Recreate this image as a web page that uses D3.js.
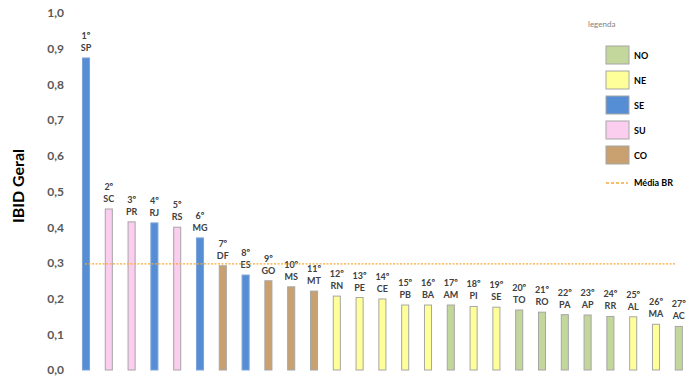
<!DOCTYPE html>
<html>
<head>
<meta charset="utf-8">
<script src="https://cdn.jsdelivr.net/npm/d3@7"></script>
<style>
  body { margin: 0; background: #fff; }
  text { font-family: Lato, "Open Sans", sans-serif; }
</style>
</head>
<body>
<div id="chart"></div>
<script>
// --- DADOS ---
const estados = ["SP","SC","PR","RJ","RS","MG","DF","ES","GO","MS","MT","RN","PE","CE",
                 "PB","BA","AM","PI","SE","TO","RO","PA","AP","RR","AL","MA","AC"];
const regioes = ["SE","SU","SU","SE","SU","SE","CO","SE","CO","CO","CO","NE","NE","NE",
                 "NE","NE","NO","NE","NE","NO","NO","NO","NO","NO","NE","NE","NO"];
const ibid = [0.874,0.451,0.415,0.412,0.400,0.370,0.292,0.266,0.250,0.233,0.221,0.207,0.203,0.199,
              0.182,0.182,0.182,0.178,0.176,0.168,0.162,0.155,0.154,0.150,0.149,0.128,0.122];
const mediaBR = 0.297;
const yTicks = [0,0.1,0.2,0.3,0.4,0.5,0.6,0.7,0.8,0.9,1.0];
const legendaRegioes = ["NO","NE","SE","SU","CO"];
const cores = {NO:"#c3d69b", NE:"#ffff99", SE:"#558ed5", SU:"#fbcdee", CO:"#c9a06f"};

const W = 700, H = 381;
const svg = d3.select("#chart").append("svg")
  .attr("width", W).attr("height", H);

const data = estados.map((e, i) => ({estado: e, regiao: regioes[i], valor: ibid[i], rank: i + 1}));

// --- ESCALAS ---
const x = d3.scaleBand()
  .domain(estados)
  .range([74.6, 690.2])
  .paddingInner(0.69)
  .paddingOuter(0.345);

const y = d3.scaleLinear()
  .domain([0, 1])
  .range([370, 13]);

// --- EIXO Y ---
const yAxis = svg.append("g")
  .attr("transform", "translate(64,0)")
  .call(d3.axisLeft(y).tickValues(yTicks).tickSize(0).tickPadding(0)
        .tickFormat(d => d3.format(".1f")(d).replace(".", ",")));
yAxis.select(".domain").remove();
yAxis.selectAll("text")
  .style("font-family", "Lato, sans-serif")
  .style("font-size", "12px")
  .style("font-weight", "bold")
  .attr("fill", "#595959");

svg.append("text")
  .attr("transform", "rotate(-90)")
  .attr("x", -186)
  .attr("y", 24)
  .style("text-anchor", "middle")
  .style("font-size", "16px")
  .style("font-weight", "bold")
  .attr("fill", "#000")
  .text("IBID Geral");

// --- BARRAS ---
svg.selectAll(".bar")
  .data(data)
  .enter().append("rect")
    .attr("class", "bar")
    .attr("x", d => x(d.estado))
    .attr("width", x.bandwidth())
    .attr("y", d => y(d.valor))
    .attr("height", d => y(0) - y(d.valor))
    .attr("fill", d => cores[d.regiao])
    .attr("stroke", d => d.regiao === "SE" ? "#7fa3d6" : "#a6a6a6")
    .attr("stroke-width", 1);

// --- RÓTULOS ---
const rotulos = svg.selectAll(".rotulo")
  .data(data)
  .enter().append("text")
    .attr("class", "rotulo")
    .attr("x", d => x(d.estado) + x.bandwidth() / 2)
    .attr("y", d => y(d.valor) - 19)
    .style("text-anchor", "middle")
    .style("font-size", "9px")
    .style("font-weight", "bold")
    .attr("fill", "#404040");
rotulos.append("tspan").text(d => d.rank + "º");
rotulos.append("tspan")
  .attr("x", d => x(d.estado) + x.bandwidth() / 2)
  .attr("dy", 12)
  .text(d => d.estado);

// --- MÉDIA BR ---
svg.append("line")
  .attr("x1", x(estados[0]) + x.bandwidth() / 2 - 1)
  .attr("x2", x(estados[estados.length - 1]))
  .attr("y1", y(mediaBR)).attr("y2", y(mediaBR))
  .attr("stroke", "#f7a93b")
  .attr("stroke-width", 1.2)
  .attr("stroke-dasharray", "2,1.5");

// --- LEGENDA ---
const leg = svg.append("g");
leg.append("text")
  .attr("x", 588).attr("y", 27)
  .style("font-size", "8px")
  .attr("fill", "#7f7f7f")
  .text("legenda");

legendaRegioes.forEach((r, i) => {
  const yy = 46 + i * 25;
  leg.append("rect")
    .attr("x", 606).attr("y", yy)
    .attr("width", 23).attr("height", 18)
    .attr("fill", cores[r])
    .attr("stroke", "#a6a6a6");
  leg.append("text")
    .attr("x", 634).attr("y", yy + 12.5)
    .style("font-size", "9px")
    .style("font-weight", "bold")
    .attr("fill", "#000")
    .text(r);
});
leg.append("line")
  .attr("x1", 606).attr("x2", 628)
  .attr("y1", 183).attr("y2", 183)
  .attr("stroke", "#f7a93b")
  .attr("stroke-width", 1.5)
  .attr("stroke-dasharray", "3,2");
leg.append("text")
  .attr("x", 634).attr("y", 186)
  .style("font-size", "9px")
  .style("font-weight", "bold")
  .attr("fill", "#000")
  .text("Média BR");
</script>
</body>
</html>
